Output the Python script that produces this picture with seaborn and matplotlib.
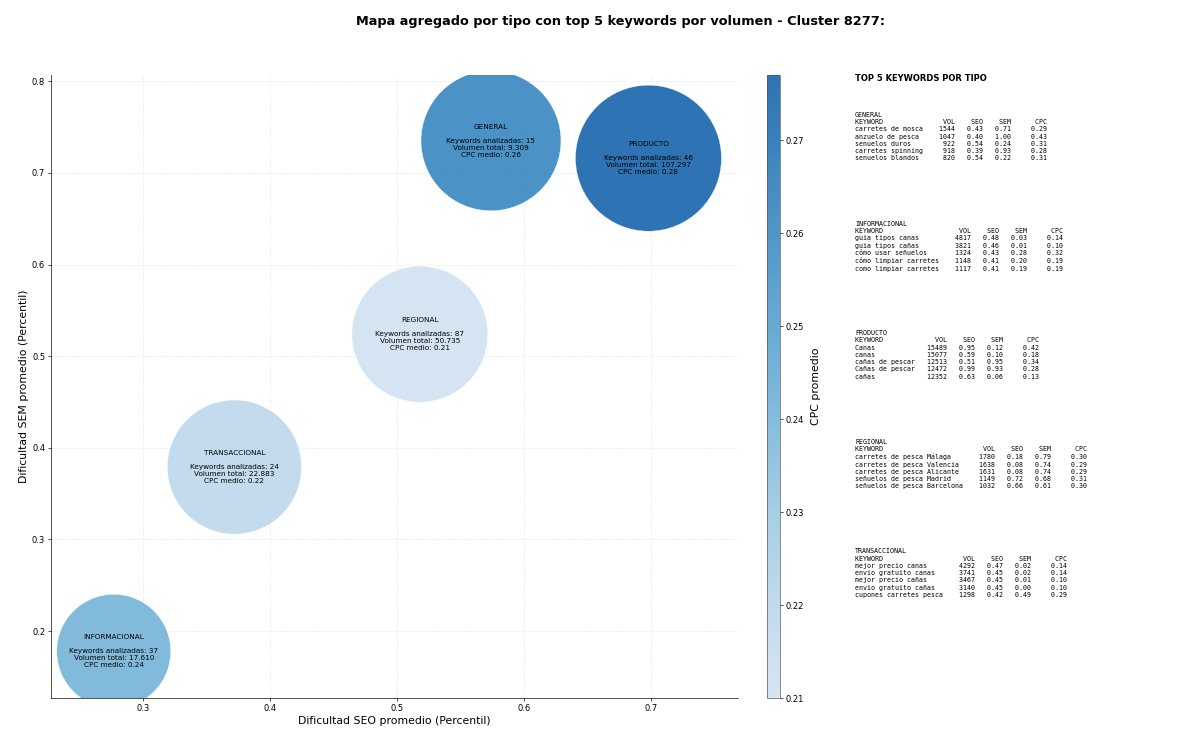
import numpy as np
import pandas as pd
import matplotlib
matplotlib.use("Agg")
import matplotlib.pyplot as plt
import matplotlib.colors as mcolors
import seaborn as sns

# -----------------------------------------------------------------------------
# Data
# -----------------------------------------------------------------------------
tipos = ["GENERAL", "INFORMACIONAL", "PRODUCTO", "REGIONAL", "TRANSACCIONAL"]
seo_medio = [0.574, 0.277, 0.698, 0.518, 0.372]
sem_medio = [0.735, 0.178, 0.716, 0.524, 0.379]
cpc_medio = [0.262, 0.241, 0.277, 0.210, 0.219]
n_keywords = [15, 37, 46, 87, 24]
volumen_total = [9309, 17610, 107297, 50735, 22883]
bubble_area = [28200, 18700, 30700, 26600, 25900]

# top 5 keywords per tipo: (keyword, vol, seo, sem, cpc)
top_general = [
    ("carretes de mosca", 1544, 0.43, 0.71, 0.29),
    ("anzuelo de pesca", 1047, 0.40, 1.00, 0.43),
    ("senuelos duros", 922, 0.54, 0.24, 0.31),
    ("carretes spinning", 918, 0.39, 0.93, 0.28),
    ("senuelos blandos", 820, 0.54, 0.22, 0.31),
]
top_informacional = [
    ("guia tipos canas", 4817, 0.48, 0.03, 0.14),
    ("guia tipos cañas", 3821, 0.46, 0.01, 0.10),
    ("cómo usar señuelos", 1324, 0.43, 0.28, 0.32),
    ("cómo limpiar carretes", 1148, 0.41, 0.20, 0.19),
    ("como limpiar carretes", 1117, 0.41, 0.19, 0.19),
]
top_producto = [
    ("Canas", 15489, 0.95, 0.12, 0.42),
    ("canas", 15077, 0.59, 0.10, 0.18),
    ("cañas de pescar", 12513, 0.51, 0.95, 0.34),
    ("Cañas de pescar", 12472, 0.99, 0.93, 0.28),
    ("cañas", 12352, 0.63, 0.06, 0.13),
]
top_regional = [
    ("carretes de pesca Málaga", 1780, 0.18, 0.79, 0.30),
    ("carretes de pesca Valencia", 1638, 0.08, 0.74, 0.29),
    ("carretes de pesca Alicante", 1631, 0.08, 0.74, 0.29),
    ("señuelos de pesca Madrid", 1149, 0.72, 0.68, 0.31),
    ("señuelos de pesca Barcelona", 1032, 0.66, 0.61, 0.30),
]
top_transaccional = [
    ("mejor precio canas", 4292, 0.47, 0.02, 0.14),
    ("envio gratuito canas", 3741, 0.45, 0.02, 0.14),
    ("mejor precio cañas", 3467, 0.45, 0.01, 0.10),
    ("envio gratuito cañas", 3140, 0.45, 0.00, 0.10),
    ("cupones carretes pesca", 1298, 0.42, 0.49, 0.29),
]
top_keywords = [top_general, top_informacional, top_producto,
                top_regional, top_transaccional]

df = pd.DataFrame({
    "tipo": tipos,
    "seo": seo_medio,
    "sem": sem_medio,
    "cpc": cpc_medio,
    "n": n_keywords,
    "vol": volumen_total,
})

# -----------------------------------------------------------------------------
# Figure
# -----------------------------------------------------------------------------
fig = plt.figure(figsize=(20, 12.4167), dpi=60)
ax = fig.add_axes([0.0425, 0.063, 0.5725, 0.836])
cax = fig.add_axes([0.639, 0.063, 0.011, 0.836])

# light-to-medium part of the Blues map
blues = sns.color_palette("Blues", as_cmap=True)
cmap = mcolors.ListedColormap(blues(np.linspace(0.2, 0.8, 256)))
norm = mcolors.Normalize(vmin=min(cpc_medio), vmax=max(cpc_medio))

sns.scatterplot(
    data=df, x="seo", y="sem",
    hue="cpc", palette=cmap, hue_norm=norm,
    s=bubble_area, alpha=0.9, edgecolor="white", linewidth=0.5,
    legend=False, ax=ax, zorder=3,
)

for _, row in df.iterrows():
    vol_txt = f"{row['vol']:,}".replace(",", ".")
    label = (f"{row['tipo']}\n\nKeywords analizadas: {row['n']}\n"
             f"Volumen total: {vol_txt}\nCPC medio: {row['cpc']:.2f}")
    ax.text(row["seo"], row["sem"], label, ha="center", va="center",
            multialignment="center", fontsize=8.7, zorder=4)

ax.set_xlim(0.2276, 0.7685)
ax.set_ylim(0.127, 0.8065)
ax.set_xlabel("Dificultad SEO promedio (Percentil)", fontsize=13)
ax.set_ylabel("Dificultad SEM promedio (Percentil)", fontsize=13)
ax.tick_params(labelsize=10)
ax.grid(True, linestyle="--", alpha=0.3, zorder=0)
sns.despine(ax=ax)

sm = plt.cm.ScalarMappable(norm=norm, cmap=cmap)
cb = fig.colorbar(sm, cax=cax, alpha=0.9)
cb.set_label("CPC promedio", fontsize=13, labelpad=8)
cb.ax.tick_params(labelsize=10)
cb.outline.set_edgecolor("#555555")

fig.suptitle("Mapa agregado por tipo con top 5 keywords por volumen - Cluster 8277:",
             fontsize=15.5, fontweight="bold", x=0.517, y=0.98)

# -----------------------------------------------------------------------------
# Right-hand keyword tables
# -----------------------------------------------------------------------------
fig.text(0.7125, 0.895, "TOP 5 KEYWORDS POR TIPO", fontsize=10,
         fontweight="bold", va="center", ha="left")

for i, (tipo, rows) in enumerate(zip(tipos, top_keywords)):
    w = max(len(r[0]) for r in rows)
    lines = [tipo,
             f"{'KEYWORD':<{w}}{'VOL':>8}{'SEO':>7}{'SEM':>7}{'CPC':>9}"]
    for kw, vol, seo, sem, cpc in rows:
        lines.append(f"{kw:<{w}}{vol:>8}{seo:>7.2f}{sem:>7.2f}{cpc:>9.2f}")
    fig.text(0.7125, 0.85 - i * 0.1465, "\n".join(lines), family="monospace",
             fontsize=8, va="top", ha="left", linespacing=1.25)

fig.savefig("out.png", dpi=60)
